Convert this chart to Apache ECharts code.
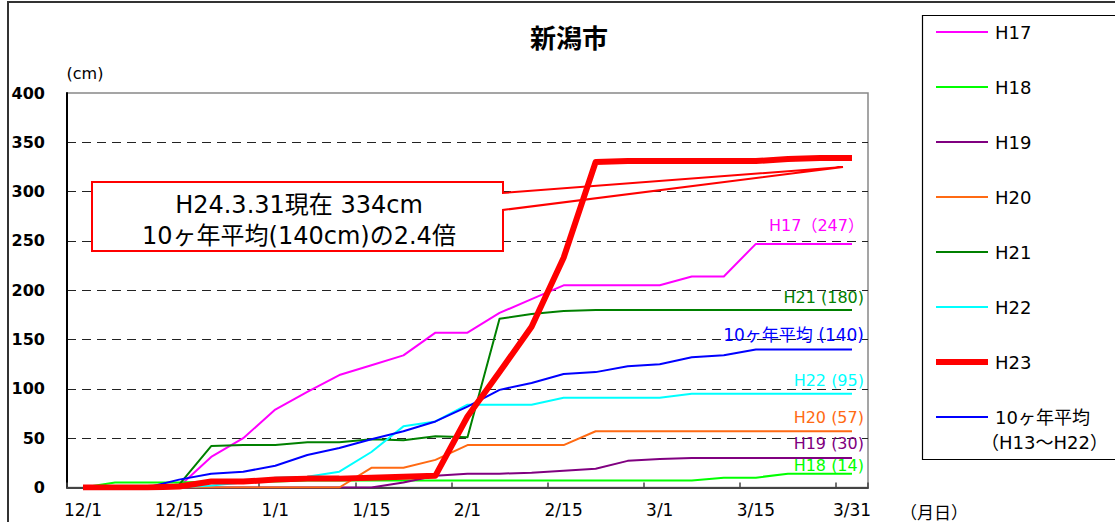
<!DOCTYPE html>
<html><head><meta charset="utf-8">
<script src="https://cdn.jsdelivr.net/npm/echarts@6/dist/echarts.min.js"></script>
<style>html,body{margin:0;padding:0;background:#fff}#c{width:1115px;height:522px}</style>
</head><body><div id="c"></div>
<script>
// Data (cumulative snowfall, cm) — semi-monthly points Dec 1 .. Mar 31
const categories = ['12/1','12/5','12/10','12/15','12/20','12/25','1/1','1/5','1/10','1/15','1/20','1/25','2/1','2/5','2/10','2/15','2/20','2/25','3/1','3/5','3/10','3/15','3/20','3/25','3/31'];
const seriesNames = ['H17','H18','H19','H20','H21','H22','H23','10ヶ年平均'];
const h17 = [0,0,0,1,31,50,79,97,114,124,134,157,157,177,191,205,205,205,205,214,214,247,247,247,247];
const h18 = [0,5,5,5,6,6,6,7,7,7,7,7,7,7,7,7,7,7,7,7,10,10,14,14,14];
const h19 = [0,0,0,0,0,0,0,0,0,0,5,12,14,14,15,17,19,27,29,30,30,30,30,30,30];
const h20 = [0,0,0,0,0,0,0,0,0,20,20,28,43,43,43,43,57,57,57,57,57,57,57,57,57];
const h21 = [0,0,0,3,42,43,43,46,46,49,48,52,51,171,176,179,180,180,180,180,180,180,180,180,180];
const h22 = [0,0,0,0,2,5,10,11,16,36,62,67,84,84,84,91,91,91,91,95,95,95,95,95,95];
const h23 = [0,0,0,1,6,6,8,9,9,10,11,12,72,117,163,233,330,331,331,331,331,331,333,334,334];
const avg10 = [0,0,0,8,14,16,22,33,40,49,57,67,82,99,106,115,117,123,125,132,134,140,140,140,140];
const endLabels = ['H17（247）','H18 (14)','H19 (30)','H20 (57)','H21 (180)','H22 (95)',null,'10ヶ年平均 (140)'];
const colors = ['#FF00FF','#00FF00','#800080','#FF6A13','#008000','#00FFFF','#FF0000','#0000FF'];
const yTicks = {min:0, max:400, interval:50};

const FONT = "'DejaVu Sans', 'Noto Sans CJK JP', sans-serif";
const allData = [h17,h18,h19,h20,h21,h22,h23,avg10];
const labelDy = [-18,-8,-14,-14,-12,-13,0,-14];

const series = allData.map((d,i)=>({
  name: seriesNames[i],
  type: 'line',
  data: d,
  symbol: 'none',
  smooth: false,
  z: i===6 ? 3 : 2,
  lineStyle: {color: colors[i], width: i===6 ? 6 : 2, join: 'round'},
  itemStyle: {color: colors[i]},
  endLabel: endLabels[i] ? {
    show: true, formatter: endLabels[i], color: colors[i], fontSize: i===7 ? 17 : 16,
    fontFamily: FONT, align: 'right', verticalAlign: 'middle', distance: 5, offset: [7, labelDy[i]]
  } : {show:false}
}));

const chart = echarts.init(document.getElementById('c'), null, {renderer:'svg'});
chart.setOption({
  animation: false,
  backgroundColor: '#fff',
  title: {text:'新潟市', left: 525, top: 18, textStyle:{fontSize:26, fontWeight:'bold', color:'#000', fontFamily:"'Noto Sans CJK JP', sans-serif"}},
  grid: {left: 67, right: 247, top: 93, bottom: 34.5, show: true, borderColor: '#888', borderWidth: 1.5, backgroundColor: 'transparent'},
  legend: {
    orient: 'vertical', left: 933, top: 22, padding: 0,
    itemWidth: 52, itemHeight: 20, itemGap: 35,
    data: seriesNames,
    itemStyle: {opacity: 0, borderWidth: 0},
    lineStyle: {width: 'inherit'},
    textStyle: {fontSize: 18, lineHeight: 20, color: '#000', fontFamily: FONT, padding: [0,0,0,2]}
  },
  xAxis: {
    type: 'category', data: categories, boundaryGap: true,
    axisLine: {lineStyle: {color: '#444', width: 2}},
    axisTick: {show: true, inside: true, length: 5, interval: 2, lineStyle: {color: '#444', width: 1.5}},
    axisLabel: {interval: 2, margin: 14, fontSize: 17, color: '#000', fontFamily: FONT},
    splitLine: {show: false}
  },
  yAxis: {
    type: 'value', min: yTicks.min, max: yTicks.max, interval: yTicks.interval,
    axisLine: {show: true, lineStyle: {color: '#000', width: 2}},
    axisTick: {show: false},
    axisLabel: {margin: 22, fontSize: 16, fontWeight: 'bold', color: '#000', fontFamily: FONT},
    splitLine: {show: true, showMinLine: false, showMaxLine: false, lineStyle: {color: '#222', width: 1, type: [9,6]}}
  },
  graphic: [
    {type:'rect', z: 0, shape:{x:8, y:2, width:2000, height:2000}, style:{fill:'none', stroke:'#333', lineWidth:2}},
    {type:'rect', z: 0, shape:{x:922.5, y:15.5, width:300, height:444}, style:{fill:'none', stroke:'#000', lineWidth:1.2}},
    {type:'polygon', z: 1, shape:{points:[[92,182],[503,182],[503,193],[843,167],[503,210],[503,251],[92,251]]}, style:{fill:'#fff', stroke:'#FF0000', lineWidth:2}},
    {type:'text', z: 5, style:{text:'H24.3.31現在 334cm', x:299, y:205, align:'center', verticalAlign:'middle', fontSize:24, fontFamily:FONT, fill:'#000'}},
    {type:'text', z: 5, style:{text:'10ヶ年平均(140cm)の2.4倍', x:299, y:236, align:'center', verticalAlign:'middle', fontSize:24, fontFamily:FONT, fill:'#000'}},
    {type:'text', z: 5, style:{text:'(cm)', x:85, y:73, align:'center', verticalAlign:'middle', fontSize:16, fontFamily:FONT, fill:'#000'}},
    {type:'text', z: 5, style:{text:'（月日）', x:934, y:511, align:'center', verticalAlign:'middle', fontSize:17, fontFamily:"'Noto Sans CJK JP', sans-serif", fill:'#000'}},
    {type:'text', z: 5, style:{text:'（H13～H22）', x:981, y:442, align:'left', verticalAlign:'middle', fontSize:18, fontFamily:FONT, fill:'#000'}}
  ],
  series: series
});
</script></body></html>
